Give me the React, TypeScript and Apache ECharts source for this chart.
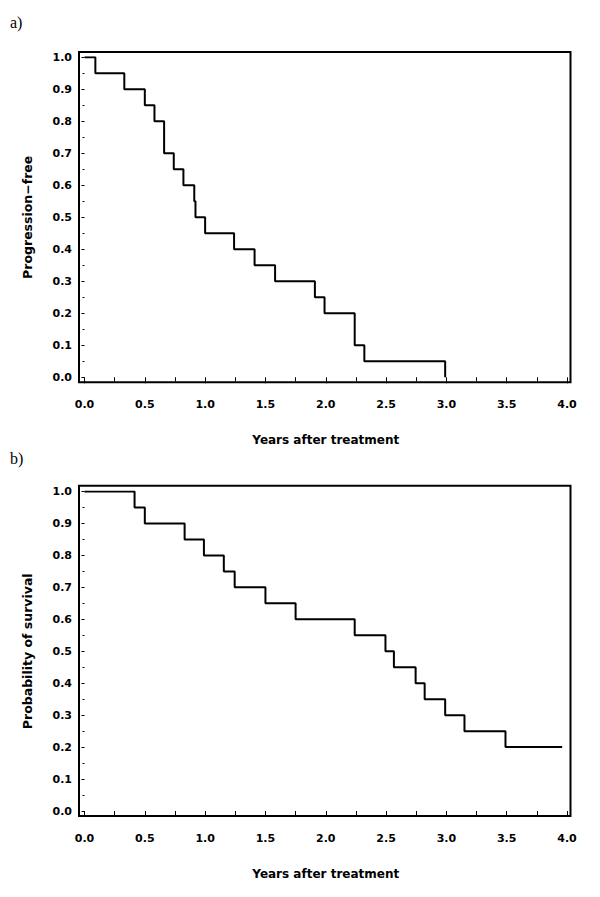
import React, { useEffect, useRef } from "react";
import * as echarts from "echarts";

// Panel a) Progression-free (Kaplan-Meier step points: time of drop, value after drop)
const progTimes = [0, 0.09, 0.33, 0.5, 0.58, 0.66, 0.74, 0.82, 0.91, 0.92, 1.0, 1.24, 1.41, 1.58, 1.91, 1.99, 2.24, 2.32, 2.99];
const progValues = [1.0, 0.95, 0.9, 0.85, 0.8, 0.7, 0.65, 0.6, 0.55, 0.5, 0.45, 0.4, 0.35, 0.3, 0.25, 0.2, 0.1, 0.05, 0.0];

// Panel b) Probability of survival
const survTimes = [0, 0.415, 0.5, 0.83, 0.99, 1.155, 1.245, 1.5, 1.75, 2.24, 2.495, 2.565, 2.745, 2.82, 2.99, 3.15, 3.49, 3.96];
const survValues = [1.0, 0.95, 0.9, 0.85, 0.8, 0.75, 0.7, 0.65, 0.6, 0.55, 0.5, 0.45, 0.4, 0.35, 0.3, 0.25, 0.2, 0.2];

const panelLabels = ["a)", "b)"];
const yTitles = ["Progression\u2212free", "Probability of survival"];
const xTitle = "Years after treatment";

const FONT = "DejaVu Sans";

function xAxisCfg(gridIndex: number) {
  return {
    gridIndex,
    type: "value" as const,
    min: 0,
    max: 4,
    interval: 0.5,
    offset: 5,
    axisLine: { show: false },
    axisTick: { show: true, length: 6, lineStyle: { color: "#000", width: 1 } },
    minorTick: { show: true, splitNumber: 2, length: 4, lineStyle: { color: "#000", width: 1 } },
    splitLine: { show: false },
    axisLabel: {
      formatter: (v: number) => v.toFixed(1),
      fontFamily: FONT,
      fontWeight: "bold" as const,
      fontSize: 11,
      color: "#000",
      margin: 17,
    },
    name: xTitle,
    nameLocation: "middle" as const,
    nameGap: 52,
    nameTextStyle: { fontFamily: FONT, fontWeight: "bold" as const, fontSize: 12, color: "#000" },
  };
}

function yAxisCfg(gridIndex: number, title: string) {
  return {
    gridIndex,
    type: "value" as const,
    min: 0,
    max: 1,
    interval: 0.1,
    offset: 5.5,
    axisLine: { show: false },
    axisTick: { show: true, length: 3, lineStyle: { color: "#000", width: 1 } },
    minorTick: { show: true, splitNumber: 2, length: 2, lineStyle: { color: "#000", width: 1 } },
    splitLine: { show: false },
    axisLabel: {
      formatter: (v: number) => v.toFixed(1),
      fontFamily: FONT,
      fontWeight: "bold" as const,
      fontSize: 11,
      color: "#000",
      margin: 7,
    },
    name: title,
    nameLocation: "middle" as const,
    nameRotate: 90,
    nameGap: 45,
    nameTextStyle: { fontFamily: FONT, fontWeight: "bold" as const, fontSize: 12.5, color: "#000" },
  };
}

export default function App() {
  const ref = useRef<HTMLDivElement>(null);
  useEffect(() => {
    document.body.style.margin = "0";
    if (!ref.current) return;
    const chart = echarts.init(ref.current, null, { renderer: "svg" });
    const frames = [
      { x: 79, y: 52, w: 491.5, h: 330.3 },
      { x: 79, y: 485.7, w: 491.5, h: 330.3 },
    ];
    chart.setOption({
      animation: false,
      backgroundColor: "#fff",
      grid: [
        { left: 84.5, top: 57.3, width: 482.5, height: 320 },
        { left: 84.5, top: 491.5, width: 482.5, height: 319.5 },
      ],
      xAxis: [xAxisCfg(0), xAxisCfg(1)],
      yAxis: [yAxisCfg(0, yTitles[0]), yAxisCfg(1, yTitles[1])],
      series: [
        {
          type: "line",
          step: "end",
          xAxisIndex: 0,
          yAxisIndex: 0,
          symbol: "none",
          lineStyle: { color: "#000", width: 2 },
          data: progTimes.map((t, i) => [t, progValues[i]]),
        },
        {
          type: "line",
          step: "end",
          xAxisIndex: 1,
          yAxisIndex: 1,
          symbol: "none",
          lineStyle: { color: "#000", width: 2 },
          data: survTimes.map((t, i) => [t, survValues[i]]),
        },
      ],
      graphic: [
        ...frames.map((f) => ({
          type: "rect",
          shape: { x: f.x, y: f.y, width: f.w, height: f.h },
          style: { fill: "none", stroke: "#000", lineWidth: 2 },
          silent: true,
        })),
        {
          type: "text",
          x: 10,
          y: 22,
          style: { text: panelLabels[0], font: "16px 'Liberation Serif', serif", fill: "#000", verticalAlign: "middle" },
        },
        {
          type: "text",
          x: 10,
          y: 458,
          style: { text: panelLabels[1], font: "16px 'Liberation Serif', serif", fill: "#000", verticalAlign: "middle" },
        },
      ],
    });
    return () => chart.dispose();
  }, []);
  return <div ref={ref} style={{ width: 600, height: 897 }} />;
}
